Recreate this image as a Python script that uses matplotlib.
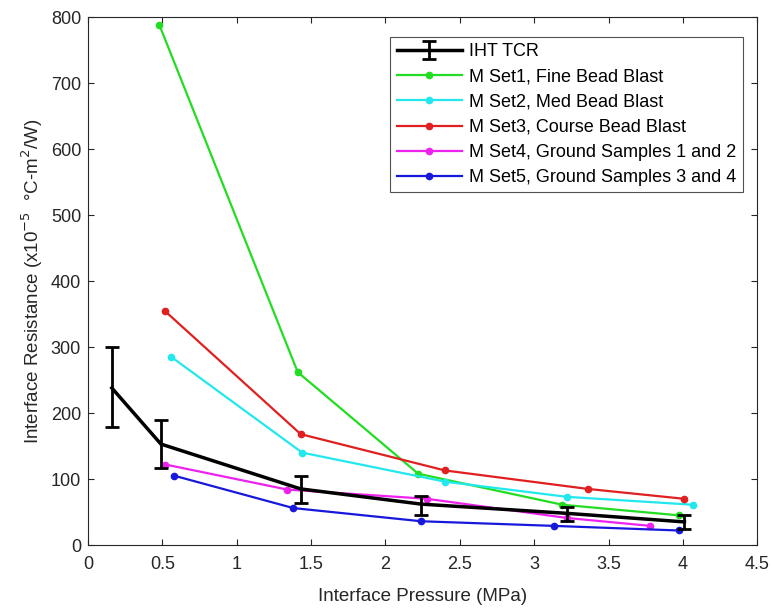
import matplotlib
matplotlib.use("Agg")
import matplotlib.pyplot as plt

plt.rcParams['font.family'] = ['Liberation Sans', 'DejaVu Sans']

iht_x = [0.16, 0.49, 1.43, 2.24, 3.22, 4.01]
iht_y = [238, 153, 85, 62, 48, 35]
iht_lo = [179, 117, 64, 46, 36, 25]
iht_hi = [300, 189, 105, 75, 58, 45]

s1_x = [0.48, 1.41, 2.22, 3.19, 3.97]
s1_y = [788, 262, 108, 61, 45]
s2_x = [0.56, 1.44, 2.40, 3.22, 4.07]
s2_y = [285, 140, 96, 73, 61]
s3_x = [0.52, 1.43, 2.40, 3.36, 4.01]
s3_y = [354, 168, 113, 85, 70]
s4_x = [0.52, 1.34, 2.28, 3.22, 3.78]
s4_y = [122, 84, 70, 41, 29]
s5_x = [0.58, 1.38, 2.24, 3.13, 3.97]
s5_y = [105, 56, 36, 29, 22]

labels = ["IHT TCR", "M Set1, Fine Bead Blast", "M Set2, Med Bead Blast",
          "M Set3, Course Bead Blast", "M Set4, Ground Samples 1 and 2",
          "M Set5, Ground Samples 3 and 4"]
xticks = [0, 0.5, 1, 1.5, 2, 2.5, 3, 3.5, 4, 4.5]
xtick_labels = ["0", "0.5", "1", "1.5", "2", "2.5", "3", "3.5", "4", "4.5"]
yticks = [0, 100, 200, 300, 400, 500, 600, 700, 800]

fig = plt.figure(figsize=(7.72, 6.11), dpi=100)
ax = fig.add_axes([0.114, 0.108, 0.867, 0.864])

yerr = [[y - lo for y, lo in zip(iht_y, iht_lo)], [hi - y for y, hi in zip(iht_y, iht_hi)]]
h0 = ax.errorbar(iht_x, iht_y, yerr=yerr, color='black', lw=2.5, capsize=5, capthick=2,
                 elinewidth=2, label=labels[0], zorder=5)
handles = [h0]
series = [(s1_x, s1_y, '#22dd22'), (s2_x, s2_y, '#22e8ee'), (s3_x, s3_y, '#e02020'),
          (s4_x, s4_y, '#ee22ee'), (s5_x, s5_y, '#1818dd')]
for (xs, ys, c), lab in zip(series, labels[1:]):
    ln, = ax.plot(xs, ys, '-o', color=c, lw=1.6, ms=4.5, label=lab)
    handles.append(ln)

ax.set_xlim(0, 4.5)
ax.set_ylim(0, 800)
ax.set_xticks(xticks)
ax.set_xticklabels(xtick_labels)
ax.set_yticks(yticks)
ax.tick_params(direction='in', length=4, labelsize=13, colors='#262626',
               top=True, right=True)
ax.tick_params(axis='x', pad=8)
ax.tick_params(axis='y', pad=5)
for s in ax.spines.values():
    s.set_color('#262626')
    s.set_linewidth(0.8)
ax.set_xlabel("Interface Pressure (MPa)", fontsize=13.5, color='#262626', labelpad=11)
ax.set_ylabel("Interface Resistance (x10$^{-5}$  °C-m$^{2}$/W)", fontsize=13.5,
              color='#262626', labelpad=4)

leg = ax.legend(handles, labels, loc='upper right', bbox_to_anchor=(0.978, 0.962), fontsize=13,
                frameon=True, fancybox=False, edgecolor='#262626', borderaxespad=0,
                handlelength=3.6, borderpad=0.35, labelspacing=0.45, handletextpad=0.4)
leg.get_frame().set_linewidth(0.8)

fig.savefig("out.png", dpi=100)
